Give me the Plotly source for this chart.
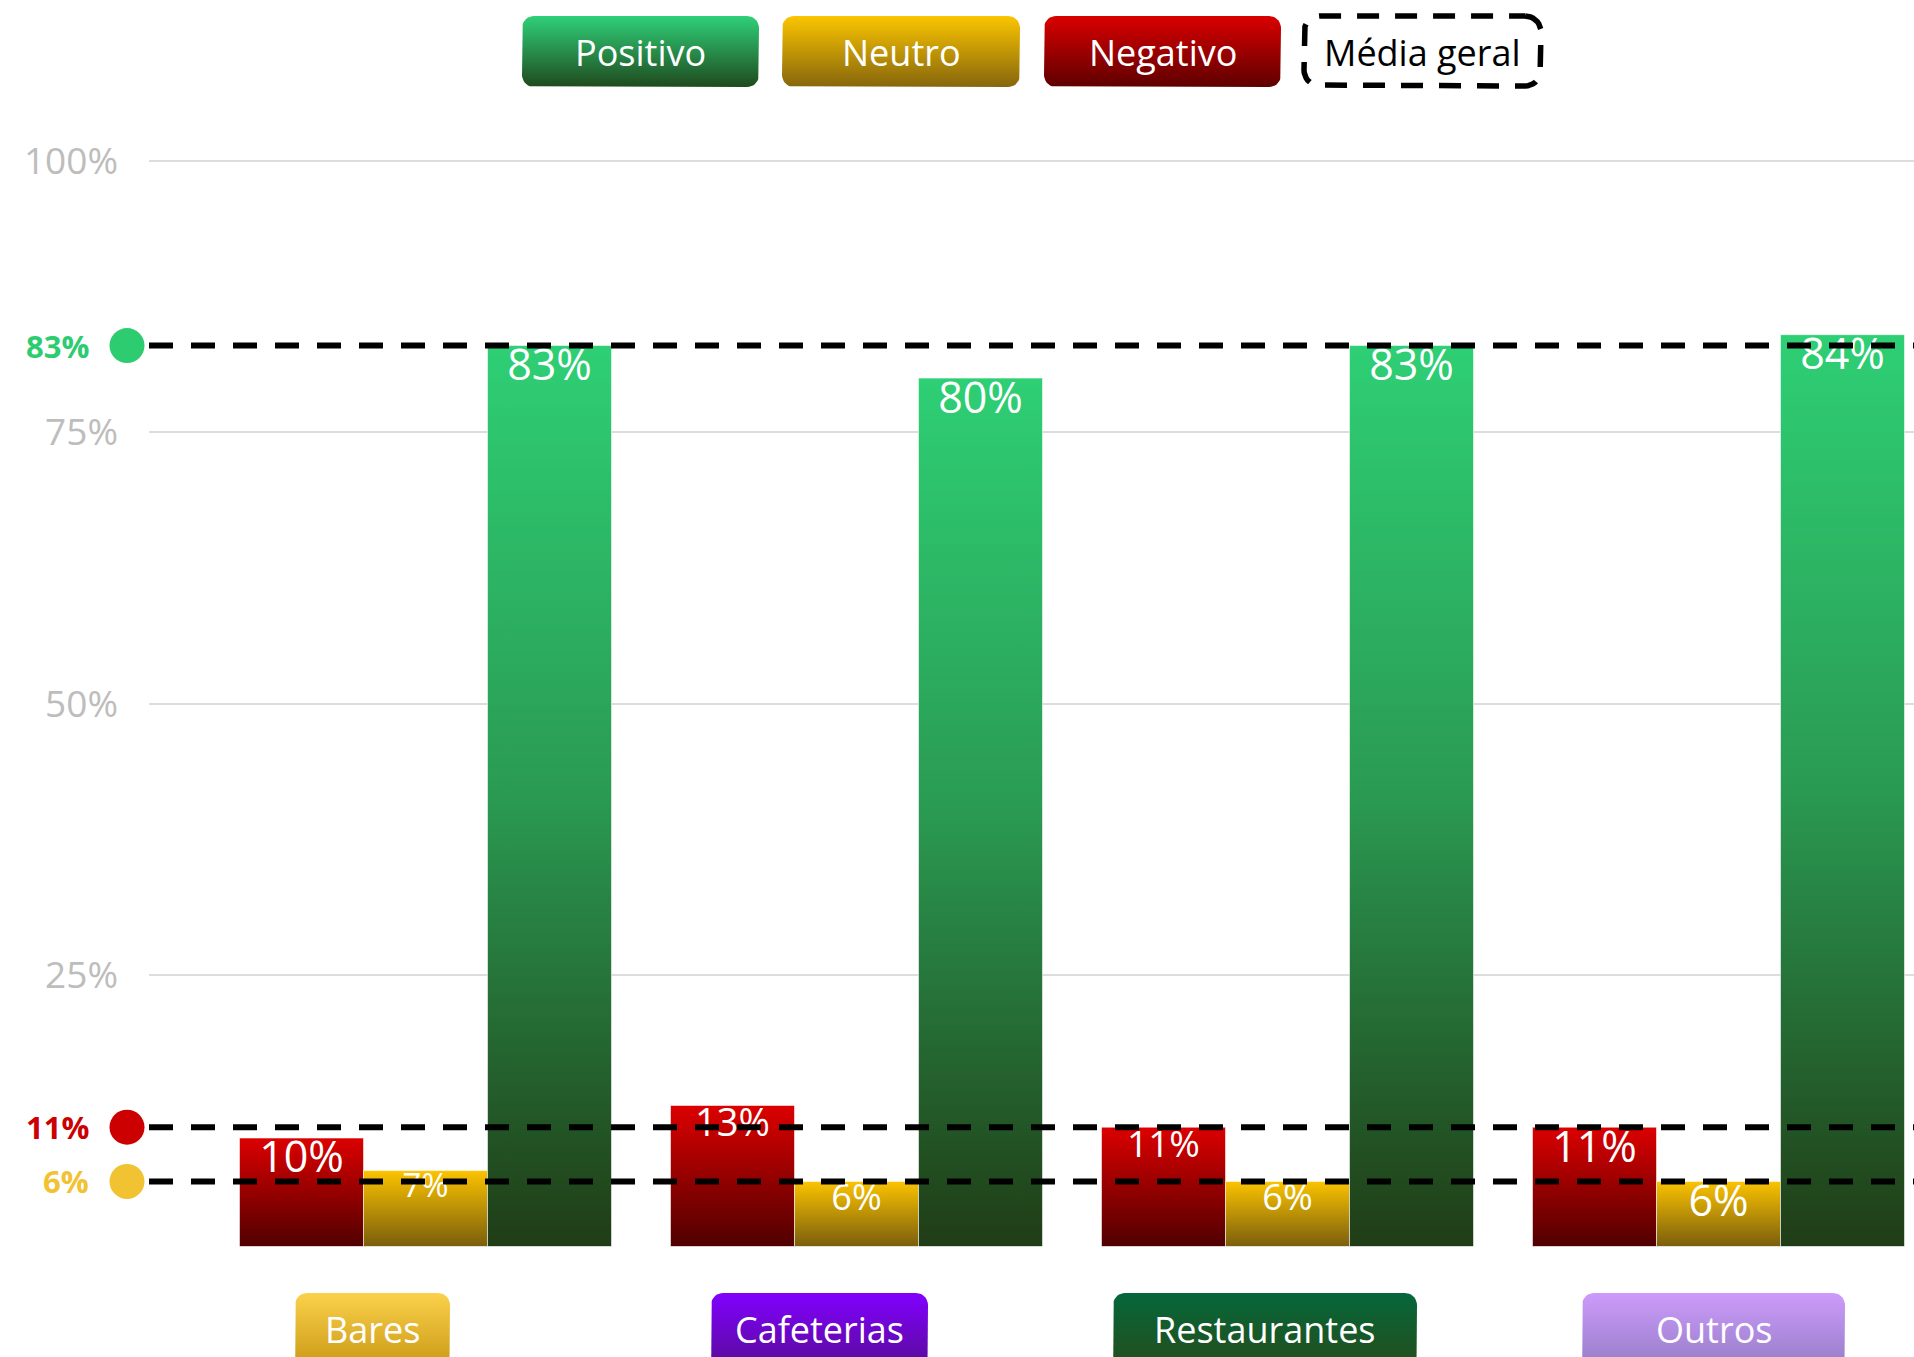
import numpy as np
import plotly.graph_objects as go

# ---- data -------------------------------------------------------------
categories = ["Bares", "Cafeterias", "Restaurantes", "Outros"]
series_names = ["Negativo", "Neutro", "Positivo"]
negativo = [10, 13, 11, 11]
neutro = [7, 6, 6, 6]
positivo = [83, 80, 83, 84]
media_geral = {"Positivo": 83, "Negativo": 11, "Neutro": 6}
y_ticks = [25, 50, 75, 100]
y_tick_labels = ["25%", "50%", "75%", "100%"]

# ---- styling ----------------------------------------------------------
W, H = 1914, 1357
FONT = "Open Sans"
PLOT_L, PLOT_R = 149, 1914          # plot area, px
Y0_PX, Y100_PX = 1246.6, 161        # pixel rows of 0% and 100%
Y_MAX = 102                         # a little headroom so the 100% grid line shows
CAT_STEP = 431.0                    # px per category
CAT0 = 425.5                        # px centre of first category
BAR_W = 124 / CAT_STEP              # bar width in category units
PX_PER_UNIT = (Y0_PX - Y100_PX) / 100.0
PLOT_T = Y0_PX - Y_MAX * PX_PER_UNIT
PLOT_B = Y0_PX

bar_grad = {
    "Negativo": [[0, "#500000"], [1, "#DC0000"]],
    "Neutro": [[0, "#7A5E0C"], [1, "#FBC300"]],
    "Positivo": [[0, "#203C16"], [0.5, "#2A9A52"], [1, "#2ECF75"]],
}
label_sizes = {
    "Negativo": [43, 38, 37, 43],
    "Neutro": [33, 36, 36, 43],
    "Positivo": [43, 43, 43, 43],
}
mean_colors = {"Positivo": "#2ECC71", "Negativo": "#CC0000", "Neutro": "#F1C232"}

values = {"Negativo": negativo, "Neutro": neutro, "Positivo": positivo}

fig = go.Figure()

# ---- bars as gradient-filled rectangles on the main axes ----------------
for k, name in enumerate(series_names):
    for i, v in enumerate(values[name]):
        c = i + (k - 1) * BAR_W
        x0, x1 = c - BAR_W / 2, c + BAR_W / 2
        fig.add_trace(go.Scatter(
            x=[x0, x0, x1, x1, x0], y=[0, v, v, 0, 0],
            mode="lines", fill="toself",
            line=dict(color="rgba(255,255,255,0.55)", width=1),
            fillgradient=dict(type="vertical", colorscale=bar_grad[name],
                              start=0, stop=v),
            hoverinfo="skip", showlegend=False, xaxis="x", yaxis="y",
        ))

# value labels just inside the top of each bar
for k, name in enumerate(series_names):
    xs, ys, txt = [], [], []
    for i, v in enumerate(values[name]):
        xs.append(i + (k - 1) * BAR_W)
        ys.append(v - 0.55 * label_sizes[name][i] / PX_PER_UNIT)
        txt.append(f"{v}%")
    fig.add_trace(go.Scatter(
        x=xs, y=ys, text=txt, mode="text", textposition="middle center",
        textfont=dict(family=FONT, color="white", size=label_sizes[name]),
        hoverinfo="skip", showlegend=False, cliponaxis=False,
    ))

# ---- overall mean lines, markers and labels ----------------------------
shapes, annotations = [], []
for name in ["Positivo", "Negativo", "Neutro"]:
    m = media_geral[name]
    shapes.append(dict(type="line", xref="x domain", x0=0, x1=1, yref="y", y0=m, y1=m,
                       line=dict(color="black", width=6, dash="24px,18px"), layer="above"))
    shapes.append(dict(type="circle", xref="paper", yref="y",
                       xsizemode="pixel", ysizemode="pixel",
                       xanchor=127 / W, yanchor=m, x0=-17.5, x1=17.5, y0=-17.5, y1=17.5,
                       fillcolor=mean_colors[name], line=dict(width=0), layer="above"))
    annotations.append(dict(xref="paper", yref="y", x=91 / W, y=m, xanchor="right",
                            yanchor="middle", showarrow=False, text=f"<b>{m}%</b>",
                            font=dict(family=FONT, size=31, color=mean_colors[name])))


# ---- overlay pixel axes for legend chips and category chips ------------
def rounded_rect(x0, y0, x1, y1, r, n=10):
    xs, ys = [], []
    corners = [(x1 - r, y0 + r, -90, 0), (x1 - r, y1 - r, 0, 90),
               (x0 + r, y1 - r, 90, 180), (x0 + r, y0 + r, 180, 270)]
    for cx, cy, a0, a1 in corners:
        t = np.radians(np.linspace(a0, a1, n))
        xs.extend(cx + r * np.cos(t))
        ys.extend(cy + r * np.sin(t))
    xs.append(xs[0])
    ys.append(ys[0])
    return xs, ys


def chip(x0, y0, x1, y1, top, bottom, r=12, grad_stop=None):
    xs, ys = rounded_rect(x0, y0, x1, y1, r)
    fig.add_trace(go.Scatter(
        x=xs, y=ys, mode="lines", fill="toself", line=dict(width=0, color=bottom),
        fillgradient=dict(type="vertical", colorscale=[[0, top], [1, bottom]],
                          start=y0, stop=grad_stop if grad_stop else y1),
        hoverinfo="skip", showlegend=False, xaxis="x2", yaxis="y2",
    ))


legend_items = [
    ("Positivo", 522, 759, "#2FD078", "#1F4A1E"),
    ("Neutro", 782, 1020, "#FBC500", "#86660C"),
    ("Negativo", 1044, 1281, "#DA0000", "#5E0000"),
]
for text, lx0, lx1, top, bottom in legend_items:
    chip(lx0, 16, lx1, 87, top, bottom, r=12)
    annotations.append(dict(xref="x2", yref="y2", x=(lx0 + lx1) / 2, y=52, text=text,
                            showarrow=False, xanchor="center", yanchor="middle",
                            font=dict(family=FONT, size=36, color="white")))

# dashed "Média geral" chip
mx, my = rounded_rect(1304, 16, 1541, 86, 16)
fig.add_trace(go.Scatter(x=mx, y=my, mode="lines",
                         line=dict(color="black", width=5.5, dash="22px,16px"),
                         hoverinfo="skip", showlegend=False, xaxis="x2", yaxis="y2"))
annotations.append(dict(xref="x2", yref="y2", x=1422, y=52, text="Média geral",
                        showarrow=False, xanchor="center", yanchor="middle",
                        font=dict(family=FONT, size=36, color="black")))

cat_chips = [
    (295, 450, "#FBD14B", "#CF9E1A"),
    (711, 928, "#8200FF", "#5C0BA3"),
    (1113, 1417, "#05673A", "#22501F"),
    (1582, 1845, "#CD9BFB", "#9B80CC"),
]
for name, (cx0, cx1, top, bottom) in zip(categories, cat_chips):
    chip(cx0, 1293, cx1, 1400, top, bottom, r=12, grad_stop=1360)
    annotations.append(dict(xref="x2", yref="y2", x=(cx0 + cx1) / 2, y=1329, text=name,
                            showarrow=False, xanchor="center", yanchor="middle",
                            font=dict(family=FONT, size=36, color="white")))

# ---- layout ------------------------------------------------------------
x_lo = (PLOT_L - CAT0) / CAT_STEP
x_hi = (PLOT_R - CAT0) / CAT_STEP

fig.update_layout(
    width=W, height=H,
    margin=dict(l=0, r=0, t=0, b=0, pad=0, autoexpand=False),
    paper_bgcolor="white", plot_bgcolor="rgba(0,0,0,0)",
    showlegend=False,
    font=dict(family=FONT),
    xaxis=dict(domain=[PLOT_L / W, PLOT_R / W], range=[x_lo, x_hi], automargin=False,
               showgrid=False, zeroline=False, showticklabels=False, ticks="",
               showline=False, fixedrange=True),
    yaxis=dict(domain=[(H - PLOT_B) / H, (H - PLOT_T) / H], range=[0, Y_MAX],
               automargin=False,
               tickvals=y_ticks, ticktext=y_tick_labels,
               tickfont=dict(family=FONT, size=37, color="#BDBDBD"),
               showgrid=True, gridcolor="#DDDDDD", gridwidth=2,
               zeroline=False, showline=False, ticks="", ticklabelstandoff=30,
               fixedrange=True),
    xaxis2=dict(domain=[0, 1], range=[0, W], visible=False, anchor="y2",
                automargin=False, fixedrange=True),
    yaxis2=dict(domain=[0, 1], range=[H, 0], visible=False, anchor="x2",
                automargin=False, fixedrange=True),
    shapes=shapes,
    annotations=annotations,
)

fig.write_html("out.html")
